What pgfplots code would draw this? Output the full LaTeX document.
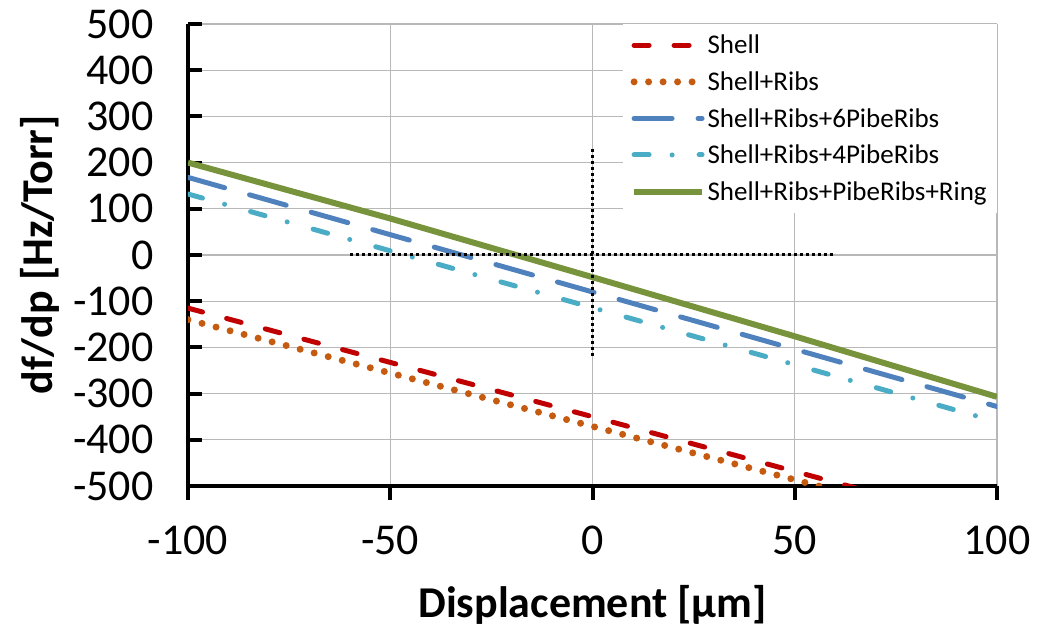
\documentclass[border=0pt]{standalone}
\usepackage{fontspec}
\setmainfont{Carlito}
\usepackage{pgfplots}
\pgfplotsset{compat=1.18}
\definecolor{cShell}{HTML}{C00000}
\definecolor{cRibs}{HTML}{C55A11}
\definecolor{cSix}{HTML}{4F81BD}
\definecolor{cFour}{HTML}{4BACC6}
\definecolor{cRing}{HTML}{77933C}
\begin{document}
\begin{tikzpicture}[x=1pt,y=1pt]
\useasboundingbox (0,0) rectangle (1042,627);
\begin{axis}[
  at={(188pt,141pt)}, anchor=south west,
  width=809pt, height=462pt, scale only axis,
  xmin=-100, xmax=100, ymin=-500, ymax=500,
  xtick={-100,-50,0,50,100},
  ytick={-500,-400,-300,-200,-100,0,100,200,300,400,500},
  grid=major, grid style={color=black!28, line width=1.2pt},
  axis x line=bottom, axis y line=left,
  axis line style={-, line width=4pt, black},
  major tick length=14pt,
  tick style={black, line width=4pt},
  xtick align=outside, ytick align=inside,
  /pgf/number format/assume math mode=true,
  tick label style={font=\fontsize{44}{53}\selectfont},
  yticklabel style={xshift=-31pt},
  xticklabel style={yshift=-22pt},
  xlabel={\textbf{Displacement [µm]}},
  ylabel={\textbf{df/dp [Hz/Torr]}},
  label style={font=\fontsize{44}{53}\selectfont},
  xlabel style={at={(axis description cs:0.5,-0.2576)}, anchor=center},
  ylabel style={at={(axis description cs:-0.183,0.5)}, anchor=center},
  legend cell align=left,
  legend style={at={(1,1)}, anchor=north east, draw=none, fill=white,
    font=\fontsize{27}{30}\selectfont, inner xsep=8pt, inner ysep=9pt, row sep=12.3pt},
  legend image code/.code={\draw[#1] (0pt,0pt) -- (68pt,0pt);},
]
\addplot[cShell, line width=5pt, line cap=round, dash pattern=on 15pt off 25pt]
  coordinates {(-100,-115) (0,-350) (100,-587)};
\addlegendentry{Shell}
\addplot[cRibs, line width=7pt, line cap=round, dash pattern=on 0pt off 14.5pt]
  coordinates {(-100,-140) (0,-371) (100,-602)};
\addlegendentry{Shell+Ribs}
\addplot[cSix, line width=5pt, line cap=round, dash pattern=on 38pt off 26pt]
  coordinates {(-100,168) (0,-80) (100,-328)};
\addlegendentry{Shell+Ribs+6PibeRibs}
\addplot[cFour, line width=5pt, line cap=round, dash pattern=on 15pt off 23pt on 0pt off 27pt]
  coordinates {(-100,132) (0,-114) (100,-361)};
\addlegendentry{Shell+Ribs+4PibeRibs}
\addplot[cRing, line width=6pt]
  coordinates {(-100,200) (-50,79) (0,-48) (50,-176) (100,-307)};
\addlegendentry{Shell+Ribs+PibeRibs+Ring}
\addplot[black, line width=3pt, dash pattern=on 3pt off 3pt, forget plot]
  coordinates {(-60,0) (60,0)};
\addplot[black, line width=3pt, dash pattern=on 3pt off 3pt, forget plot]
  coordinates {(0,230) (0,-218)};
\end{axis}
\end{tikzpicture}
\end{document}
